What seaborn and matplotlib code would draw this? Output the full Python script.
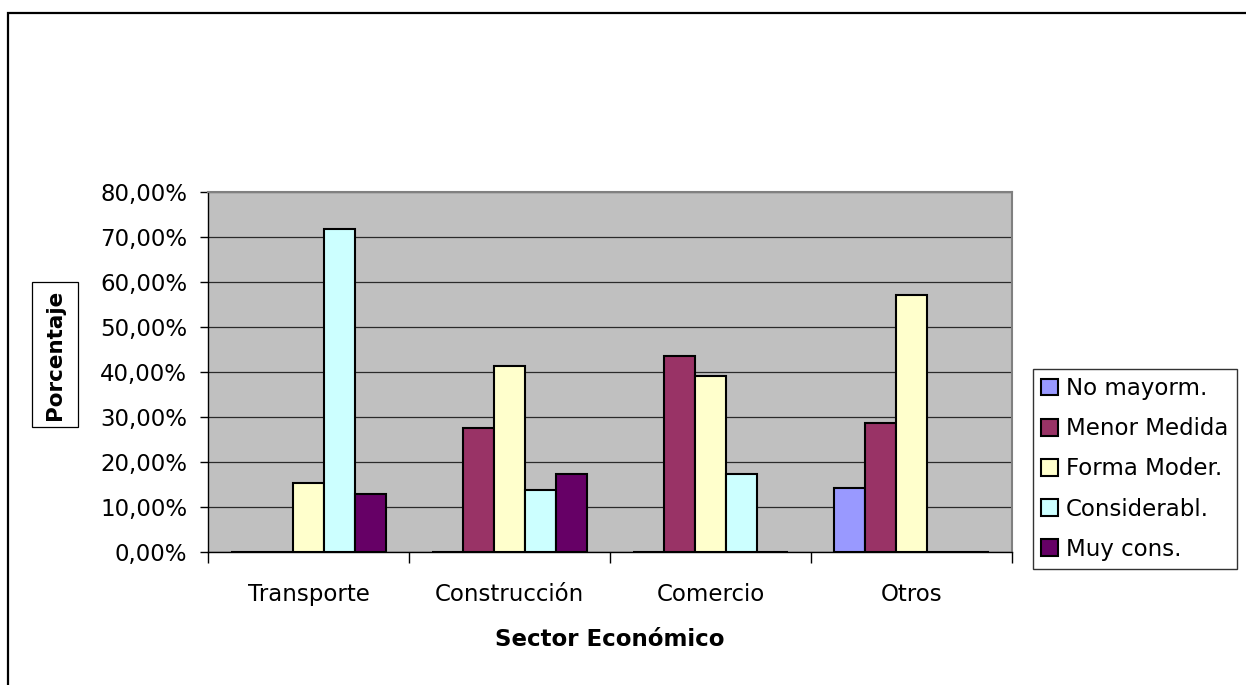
import matplotlib
matplotlib.use("Agg")
import matplotlib.pyplot as plt
from matplotlib.patches import Rectangle, Patch
from matplotlib.ticker import FuncFormatter, FixedLocator
import numpy as np
import pandas as pd
import seaborn as sns

# Survey results by economic sector (percent of responses)
sectores = ["Transporte", "Construcción", "Comercio", "Otros"]
niveles = ["No mayorm.", "Menor Medida", "Forma Moder.", "Considerabl.", "Muy cons."]
no_mayorm = [0.0, 0.0, 0.0, 14.29]
menor_medida = [0.0, 27.59, 43.48, 28.57]
forma_moder = [15.38, 41.38, 39.13, 57.14]
considerabl = [71.79, 13.79, 17.39, 0.0]
muy_cons = [12.82, 17.24, 0.0, 0.0]
colores = ["#9999FF", "#993366", "#FFFFCC", "#CCFFFF", "#660066"]
y_ticks = [0, 10, 20, 30, 40, 50, 60, 70, 80]

series = [no_mayorm, menor_medida, forma_moder, considerabl, muy_cons]
df = pd.DataFrame(
    [(s, n, vals[i]) for n, vals in zip(niveles, series) for i, s in enumerate(sectores)],
    columns=["sector", "nivel", "pct"],
)

sns.set_theme(style="white")
plt.rcParams["font.family"] = ["DejaVu Sans"]
plt.rcParams["text.color"] = "black"

FS = 16.5
W, H = 1246, 685
fig = plt.figure(figsize=(W / 100, H / 100), dpi=100)
fig.patch.set_facecolor("white")

# Outer chart frame
fig.patches.append(Rectangle((7.5 / W, -0.05), 1.1, 1 - 12.5 / H + 0.05,
                             transform=fig.transFigure, fill=False,
                             edgecolor="black", linewidth=1.6, zorder=0))

x0, x1, y0, y1 = 208, 1012, 552, 192
ax = fig.add_axes([x0 / W, 1 - y0 / H, (x1 - x0) / W, (y0 - y1) / H])
ax.set_facecolor("#C0C0C0")

sns.barplot(data=df, x="sector", y="pct", hue="nivel", order=sectores,
            hue_order=niveles, palette=colores, width=0.771,
            edgecolor="black", linewidth=1.5, saturation=1, ax=ax, legend=False)

ax.set_xlim(-0.5, 3.5)
ax.set_ylim(0, 80)
ax.set_yticks(y_ticks)
ax.yaxis.set_major_formatter(FuncFormatter(lambda v, p: f"{v:.2f}".replace(".", ",") + "%"))
ax.yaxis.grid(True, color="#2a2a2a", linewidth=0.9)
ax.set_axisbelow(True)

# Category separators as major ticks, labels on minor ticks
ax.xaxis.set_major_locator(FixedLocator([-0.5, 0.5, 1.5, 2.5, 3.5]))
ax.xaxis.set_minor_locator(FixedLocator([0, 1, 2, 3]))
ax.set_xticklabels([], minor=False)
ax.set_xticklabels(sectores, minor=True)
ax.tick_params(axis="x", which="major", length=8, width=1, color="black", direction="out", bottom=True)
ax.tick_params(axis="x", which="minor", length=0, pad=22, labelsize=FS, colors="black")
ax.tick_params(axis="y", length=6, width=1, color="black", direction="out", left=True,
               pad=9, labelsize=FS, labelcolor="black")

for side in ["top", "right"]:
    ax.spines[side].set_color("#808080")
    ax.spines[side].set_linewidth(1.5)
for side in ["left", "bottom"]:
    ax.spines[side].set_color("black")
    ax.spines[side].set_linewidth(1.0)

ax.set_ylabel("")
ax.set_xlabel("Sector Económico", fontsize=FS, fontweight="bold", labelpad=16, color="black")

# Boxed vertical axis title
fig.patches.append(Rectangle((32 / W, 1 - 427 / H), 46 / W, 145 / H,
                             transform=fig.transFigure, facecolor="white",
                             edgecolor="black", linewidth=0.9, zorder=1))
fig.text(55 / W, 1 - 355 / H, "Porcentaje", rotation=90, ha="center", va="center",
         fontsize=15.5, fontweight="bold", color="black", zorder=2)

handles = [Patch(facecolor=c, edgecolor="black", linewidth=1.5) for c in colores]
leg = fig.legend(handles, niveles, loc="upper left",
                 bbox_to_anchor=(1033 / W, 1 - 369 / H), bbox_transform=fig.transFigure,
                 frameon=True, fancybox=False, fontsize=16.5, handlelength=0.75,
                 handleheight=0.75, handletextpad=0.35, labelspacing=0.75,
                 borderpad=0.35, borderaxespad=0, labelcolor="black")
leg.get_frame().set_edgecolor("black")
leg.get_frame().set_linewidth(1.0)

fig.savefig("out.png", dpi=100, facecolor="white")
